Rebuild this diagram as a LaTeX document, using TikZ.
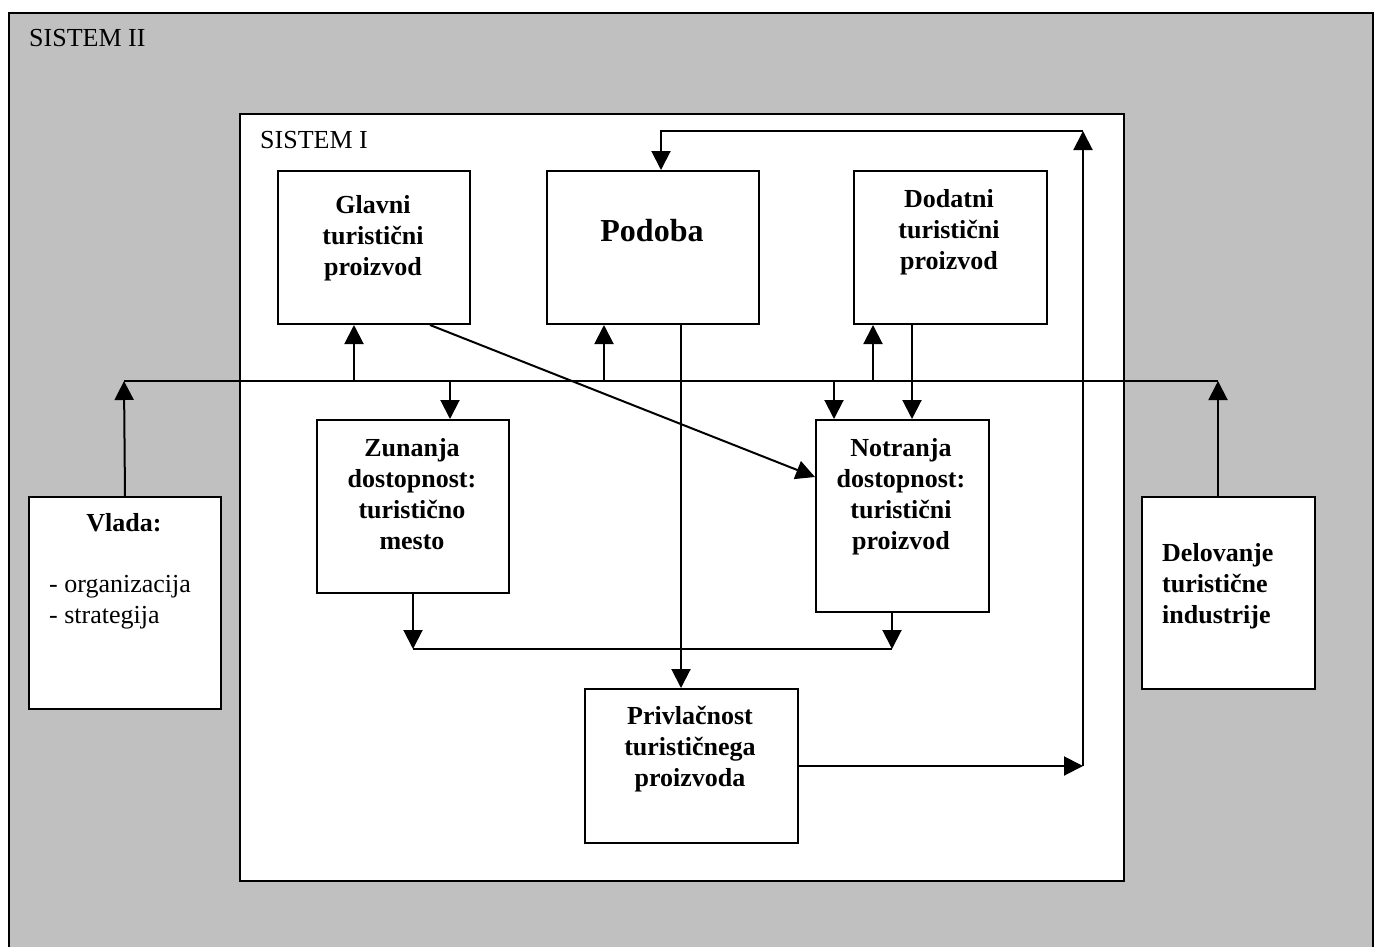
\documentclass[tikz,border=0pt]{standalone}
\usepackage{fontspec}
\setmainfont{Liberation Serif}
\usepackage{xcolor}
\usetikzlibrary{arrows.meta, positioning, calc}

\definecolor{sysgray}{RGB}{192,192,192}

\tikzset{
  box/.style={draw, line width=2pt, fill=white, inner sep=0pt, anchor=north west},
  btext/.style={font=\fontsize{26}{31}\selectfont\bfseries, align=center, inner sep=0pt, anchor=north},
  ptext/.style={font=\fontsize{26}{31}\selectfont, inner sep=0pt},
  conn/.style={line width=2pt},
  arr/.style={conn, -{Triangle[length=19pt, width=19pt]}},
}

\begin{document}
\begin{tikzpicture}[x=1pt, y=-1pt]
  \useasboundingbox (0,0) rectangle (1377,946);
  \clip (0,0) rectangle (1377,946);
  \fill[white] (0,0) rectangle (1377,946);

  % Systems
  \node[box, fill=sysgray, minimum width=1364pt, minimum height=960pt] (sistem2) at (8,12) {};
  \node[ptext, anchor=base west] (sistem2lbl) at (29,46) {SISTEM II};
  \node[box, minimum width=884pt, minimum height=767pt] (sistem1) at (239,113) {};
  \node[ptext, anchor=base west] (sistem1lbl) at (260,148) {SISTEM I};

  % Top row
  \node[box, minimum width=192pt, minimum height=153pt] (glavni) at (277,170) {};
  \node[btext] (glavnitxt) at (373,195) {Glavni\\turistični\\proizvod};
  \node[box, minimum width=212pt, minimum height=153pt] (podoba) at (546,170) {};
  \node[btext, font=\fontsize{32}{38}\selectfont\bfseries] (podobatxt) at (652,219) {Podoba};
  \node[box, minimum width=193pt, minimum height=153pt] (dodatni) at (853,170) {};
  \node[btext] (dodatnitxt) at (949,189) {Dodatni\\turistični\\proizvod};

  % Middle row
  \node[box, minimum width=192pt, minimum height=173pt] (zunanja) at (316,419) {};
  \node[btext] (zunanjatxt) at (412,438) {Zunanja\\dostopnost:\\turistično\\mesto};
  \node[box, minimum width=173pt, minimum height=192pt] (notranja) at (815,419) {};
  \node[btext] (notranjatxt) at (901,438) {Notranja\\dostopnost:\\turistični\\proizvod};

  % Bottom
  \node[box, minimum width=213pt, minimum height=154pt] (privl) at (584,688) {};
  \node[btext] (privltxt) at (690,706) {Privlačnost\\turističnega\\proizvoda};

  % Outside actors
  \node[box, minimum width=192pt, minimum height=212pt] (vlada) at (28,496) {};
  \node[btext] (vladatxt) at (124,513) {Vlada:};
  \node[ptext, align=left, anchor=north west] (vladalist) at (49,575) {- organizacija\\- strategija};
  \node[box, minimum width=173pt, minimum height=192pt] (delovanje) at (1141,496) {};
  \node[btext, align=left, anchor=north west] (delovanjetxt) at (1162,543) {Delovanje\\turistične\\industrije};

  % Bus line
  \coordinate (busL) at (124,381);
  \coordinate (busR) at (1218,381);
  \coordinate (bG) at (354,381);
  \coordinate (bZ) at (450,381);
  \coordinate (bP) at (604,381);
  \coordinate (bN) at (834,381);
  \coordinate (bD) at (873,381);
  \draw[conn] (busL) -- (busR);
  \draw[arr] (vlada.north) -- (busL);
  \draw[arr] (busR |- delovanje.north) -- (busR);
  \draw[arr] (bG) -- (bG |- glavni.south);
  \draw[arr] (bP) -- (bP |- podoba.south);
  \draw[arr] (bD) -- (bD |- dodatni.south);
  \draw[arr] (bZ) -- (bZ |- zunanja.north);
  \draw[arr] (bN) -- (bN |- notranja.north);

  % Direct links
  \coordinate (xD) at (912,0);
  \coordinate (xP) at (681,0);
  \coordinate (xG) at (430,0);
  \coordinate (yN) at (0,477);
  \draw[arr] (xD |- dodatni.south) -- (xD |- notranja.north);
  \draw[arr] (xP |- podoba.south) -- (xP |- privl.north);
  \draw[arr] (xG |- glavni.south) -- (notranja.west |- yN);

  % Merge into attractiveness
  \coordinate (mergeY) at (0,649);
  \coordinate (xN) at (892,0);
  \draw[arr] (zunanja.south) -- (zunanja.south |- mergeY);
  \draw[arr] (xN |- notranja.south) -- (xN |- mergeY);
  \draw[conn] (zunanja.south |- mergeY) -- (xN |- mergeY);

  % Feedback loop
  \coordinate (fbR) at (1083,765);
  \coordinate (fbT) at (1083,131);
  \coordinate (fbP) at (661,131);
  \draw[arr] (privl.east) -- (privl.east -| fbR);
  \draw[arr] (privl.east -| fbR) -- (fbT);
  \draw[arr] (fbT) -- (fbP) -- (fbP |- podoba.north);
\end{tikzpicture}
\end{document}
